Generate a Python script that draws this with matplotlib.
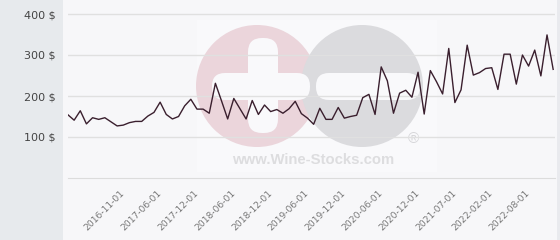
import matplotlib
matplotlib.use("Agg")
import matplotlib.pyplot as plt
from matplotlib.patches import Circle, FancyBboxPatch, Rectangle

# monthly prices
prices = [
    154, 141, 164, 132, 147, 143, 147, 137, 127, 129,
    135, 138, 138, 151, 160, 185, 155, 144, 150, 176,
    192, 168, 168, 158, 231, 188, 144, 194, 169, 144,
    189, 155, 178, 162, 167, 158, 169, 187, 157, 146,
    131, 170, 143, 143, 172, 146, 150, 153, 196, 204,
    155, 271, 237, 158, 207, 214, 197, 258, 156, 262,
    235, 205, 316, 184, 215, 324, 251, 257, 267, 269,
    216, 302, 302, 229, 300, 273, 312, 249, 349, 265,
]
tick_labels = [
    "2016-11-01", "2017-06-01", "2017-12-01", "2018-06-01",
    "2018-12-01", "2019-06-01", "2019-12-01", "2020-06-01",
    "2020-12-01", "2021-07-01", "2022-02-01", "2022-08-01",
]
y_ticks = [100, 200, 300, 400]

W, H = 560, 240
fig = plt.figure(figsize=(W / 100, H / 100), dpi=100)
fig.patch.set_facecolor("#f7f7f9")

# background layer in pixel coordinates (panel + watermark)
bg = fig.add_axes([0, 0, 1, 1], zorder=0)
bg.set_xlim(0, W)
bg.set_ylim(H, 0)
bg.axis("off")
bg.add_patch(Rectangle((0, 0), 63, H, color="#e7eaed", lw=0))
bg.add_patch(Rectangle((557, 0), 3, H, color="#e9eaee", lw=0))
bg.add_patch(Rectangle((197, 20), 240, 152, color="white", alpha=0.35, lw=0))

bg.add_patch(Circle((257, 86), 61, color="#ebd5db", lw=0))
bg.add_patch(Circle((362, 86), 61, color="#dbdbde", lw=0))
white = "#f9f9fb"
bg.add_patch(FancyBboxPatch((248 + 14, 38 + 14), 2, 95 - 28,
                            boxstyle="round,pad=14", color=white, lw=0))
bg.add_patch(FancyBboxPatch((212 + 13, 73 + 13), 98 - 26, 1,
                            boxstyle="round,pad=13", color=white, lw=0))
bg.add_patch(FancyBboxPatch((316 + 13, 73 + 13), 104 - 26, 1,
                            boxstyle="round,pad=13", color=white, lw=0))
bg.text(313, 160, "www.Wine-Stocks.com", family="Liberation Sans",
        weight="bold", fontsize=10.7, color="#dddddf", ha="center", va="center")
bg.text(413, 139, "®", family="Liberation Sans", fontsize=11,
        color="#d6d6d9", ha="center", va="center")

# main chart
ax = fig.add_axes([68 / W, (H - 178) / H, 487 / W, 176.3 / H], zorder=1)
ax.patch.set_alpha(0)
x = list(range(len(prices)))
ax.plot(x, prices, color="#3a1f2e", lw=1)

ax.set_xlim(0, 79.3)
ax.set_ylim(0, 430)
ax.set_yticks(y_ticks)
ax.set_yticklabels([f"{v} $" for v in y_ticks], fontsize=8, color="#444444")
ax.set_xticks(range(9, 9 + 6 * len(tick_labels), 6))
ax.set_xticklabels(tick_labels, rotation=45, ha="right", va="center",
                   rotation_mode="anchor", fontsize=6.6, color="#777777")
ax.tick_params(axis="x", length=0, pad=10)
ax.tick_params(axis="y", length=0, pad=9)
ax.grid(axis="y", color="#e0e0e0", lw=1)
ax.set_axisbelow(True)
for side in ["top", "right", "left"]:
    ax.spines[side].set_visible(False)
ax.spines["bottom"].set_color("#dcdcdc")

fig.savefig("out.png", dpi=100, facecolor=fig.get_facecolor())
